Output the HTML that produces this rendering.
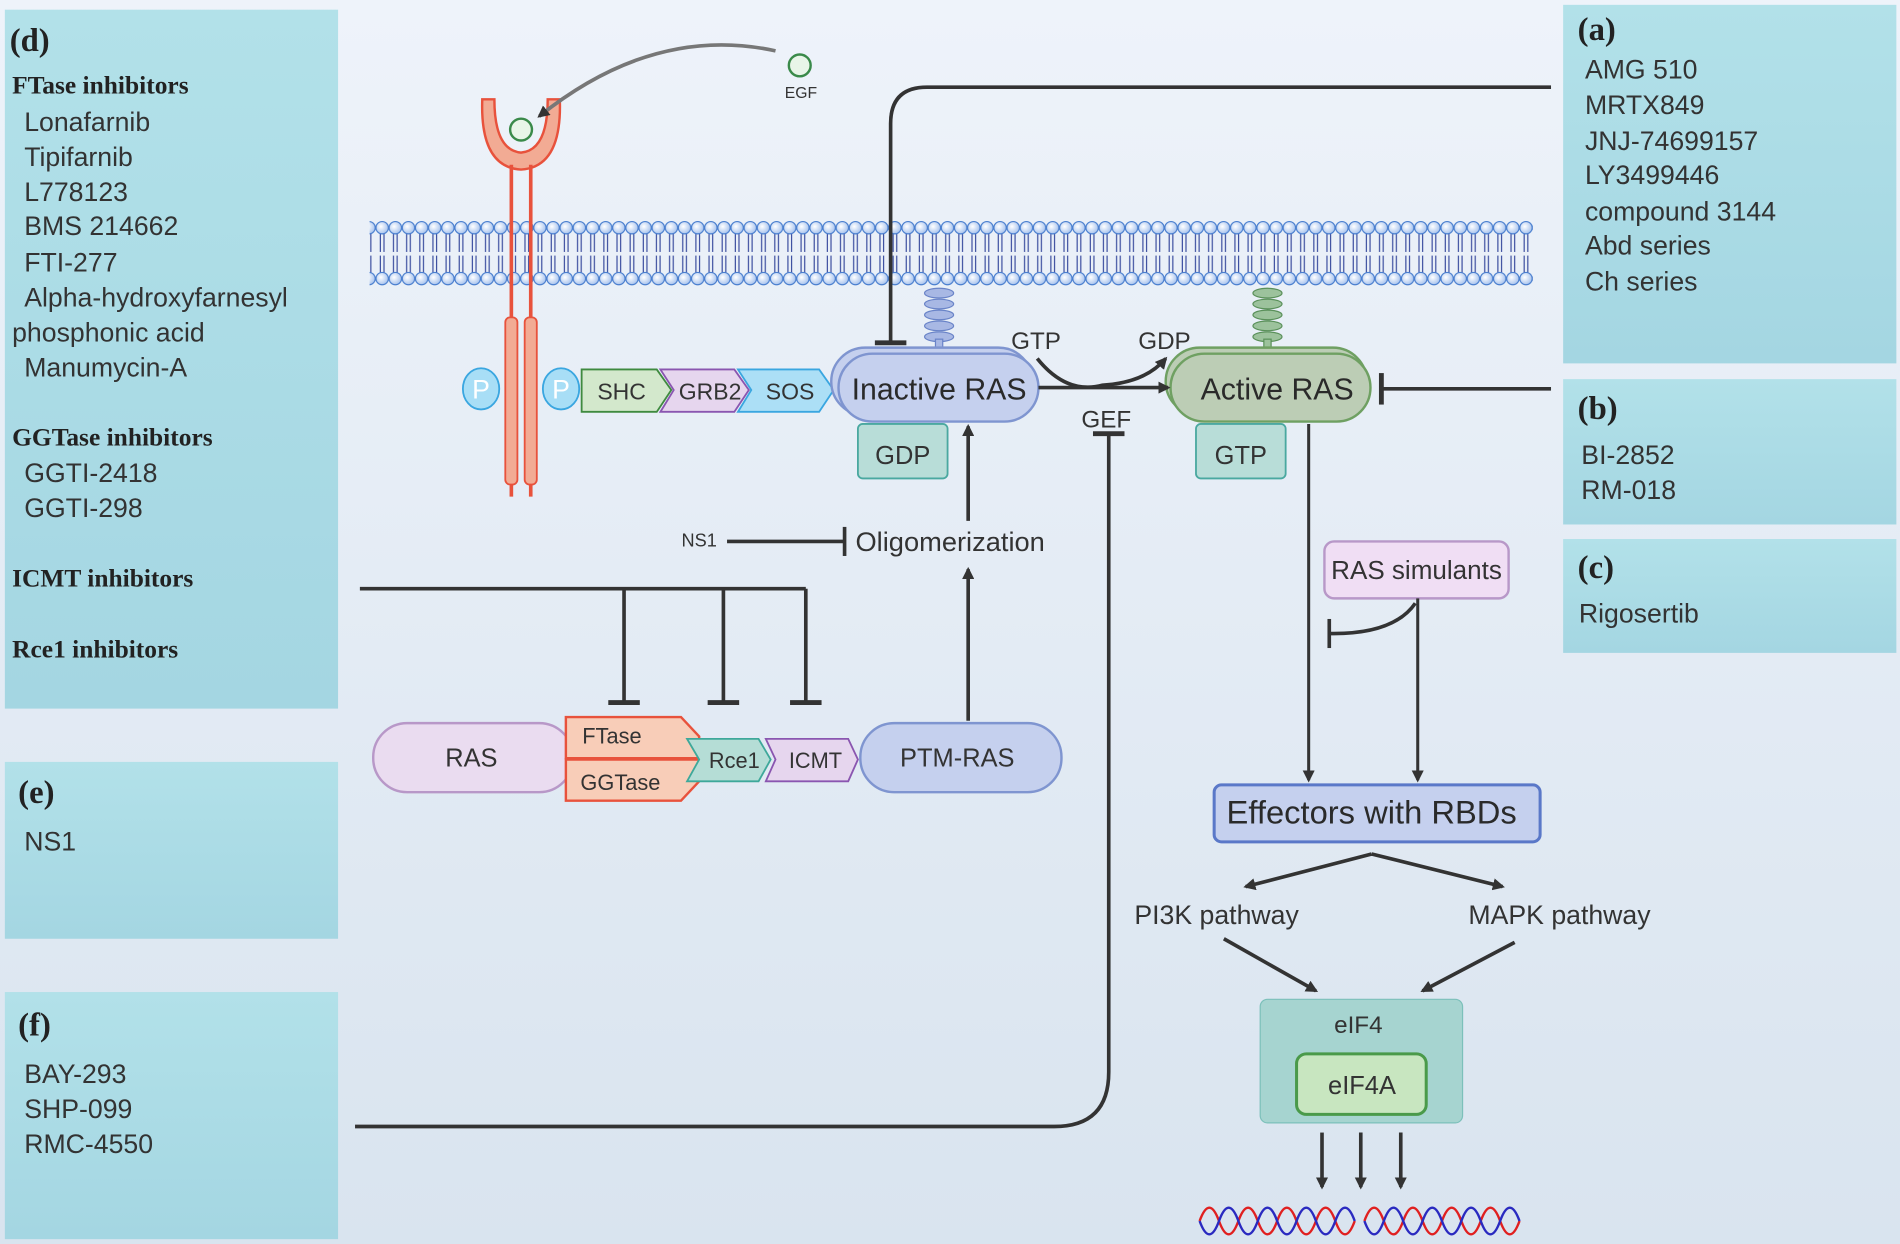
<!DOCTYPE html>
<html><head><meta charset="utf-8"><style>
html,body{margin:0;padding:0;width:1900px;height:1244px;overflow:hidden;background:#e6eef6}
svg{display:block}
.s{font-family:"Liberation Sans","DejaVu Sans",sans-serif;fill:#333}
.b{font-family:"Liberation Serif",serif;font-weight:bold;fill:#222}
</style></head><body>
<svg width="1900" height="1244" viewBox="0 0 1568 1027" preserveAspectRatio="none" xmlns="http://www.w3.org/2000/svg">
<defs>
<linearGradient id="bg" x1="0" y1="0" x2="0" y2="1"><stop offset="0" stop-color="#eef3fa"/><stop offset="1" stop-color="#d9e4ef"/></linearGradient>
<linearGradient id="pn" x1="0" y1="0" x2="0" y2="1"><stop offset="0" stop-color="#b2e1e9"/><stop offset="1" stop-color="#a4d6e2"/></linearGradient>
<radialGradient id="bead" cx="0.4" cy="0.4" r="0.6"><stop offset="0" stop-color="#ffffff"/><stop offset="1" stop-color="#a9c4ee"/></radialGradient>
<pattern id="mem" patternUnits="userSpaceOnUse" x="310" y="0" width="10.85" height="1027">
<line x1="3.9" y1="193" x2="3.9" y2="208" stroke="#3d4fa0" stroke-width="1"/>
<line x1="6.9" y1="193" x2="6.9" y2="208" stroke="#3d4fa0" stroke-width="1"/>
<line x1="3.9" y1="211" x2="3.9" y2="225" stroke="#3d4fa0" stroke-width="1"/>
<line x1="6.9" y1="211" x2="6.9" y2="225" stroke="#3d4fa0" stroke-width="1"/>
<circle cx="5.4" cy="188" r="5.1" fill="url(#bead)" stroke="#4a7fcf" stroke-width="1"/>
<circle cx="5.4" cy="230" r="5.1" fill="url(#bead)" stroke="#4a7fcf" stroke-width="1"/>
</pattern>
<marker id="ar" markerWidth="10" markerHeight="10" refX="8" refY="5" orient="auto" markerUnits="userSpaceOnUse"><path d="M0,0 L10,5 L0,10 z" fill="#333"/></marker>
</defs>
<rect width="1568" height="1027" fill="url(#bg)"/>
<!-- panels -->
<rect x="4" y="8" width="275" height="577" fill="url(#pn)"/>
<rect x="4" y="629" width="275" height="146" fill="url(#pn)"/>
<rect x="4" y="819" width="275" height="204" fill="url(#pn)"/>
<rect x="1290" y="4" width="275" height="296" fill="url(#pn)"/>
<rect x="1290" y="313" width="275" height="120" fill="url(#pn)"/>
<rect x="1290" y="445" width="275" height="94" fill="url(#pn)"/>

<!-- membrane -->
<rect x="305" y="180" width="960" height="57" fill="url(#mem)"/>

<!-- receptor -->
<g stroke="#e8523c" fill="#f2ab94">
<path d="M398,82 Q396,138 430,140 Q464,138 462,82 L452,82 Q452,124 430,126 Q408,124 408,82 Z" stroke-width="2"/>
<line x1="422" y1="136" x2="422" y2="410" stroke-width="3"/>
<line x1="438" y1="136" x2="438" y2="410" stroke-width="3"/>
<rect x="417" y="262" width="10" height="138" rx="4" stroke-width="1.5"/>
<rect x="433" y="262" width="10" height="138" rx="4" stroke-width="1.5"/>
</g>
<circle cx="430" cy="107" r="9" fill="#e8f5e8" stroke="#3a8a4a" stroke-width="2"/>
<path d="M640,42 Q540,20 445,96" fill="none" stroke="#777" stroke-width="3" marker-end="url(#ar)"/>
<circle cx="660" cy="54" r="9" fill="#e8f5e8" stroke="#3a8a4a" stroke-width="2"/>
<text x="661" y="81" class="s" font-size="13" text-anchor="middle">EGF</text>

<!-- P and chevrons -->
<ellipse cx="397" cy="321" rx="15" ry="17" fill="#a8def6" stroke="#3aa6e0" stroke-width="1.5"/>
<ellipse cx="463" cy="321" rx="15" ry="17" fill="#a8def6" stroke="#3aa6e0" stroke-width="1.5"/>
<text x="397" y="329" class="s" font-size="22" text-anchor="middle" style="fill:#fff">P</text>
<text x="463" y="329" class="s" font-size="22" text-anchor="middle" style="fill:#fff">P</text>
<path d="M480,305 L542,305 L554,322 L542,340 L480,340 Z" fill="#d3e8cc" stroke="#3f8a3f" stroke-width="1.5"/>
<path d="M545,305 L606,305 L618,322 L606,340 L545,340 L556,322 Z" fill="#e6d6ee" stroke="#8a56b0" stroke-width="1.5"/>
<path d="M609,305 L676,305 L688,322 L676,340 L609,340 L620,322 Z" fill="#acdff6" stroke="#3aa6e0" stroke-width="1.5"/>
<text x="513" y="330" class="s" font-size="19" text-anchor="middle">SHC</text>
<text x="586" y="330" class="s" font-size="19" text-anchor="middle">GRB2</text>
<text x="652" y="330" class="s" font-size="19" text-anchor="middle">SOS</text>

<!-- stems -->
<g fill="#a8b8e4" stroke="#6a84c8" stroke-width="1">
<ellipse cx="775" cy="242" rx="12" ry="4"/><ellipse cx="775" cy="251" rx="12" ry="4"/><ellipse cx="775" cy="260" rx="12" ry="4"/><ellipse cx="775" cy="269" rx="12" ry="4"/><ellipse cx="775" cy="278" rx="12" ry="4"/>
<rect x="772" y="280" width="6" height="12"/>
</g>
<g fill="#9cc29c" stroke="#5a905a" stroke-width="1">
<ellipse cx="1046" cy="242" rx="12" ry="4"/><ellipse cx="1046" cy="251" rx="12" ry="4"/><ellipse cx="1046" cy="260" rx="12" ry="4"/><ellipse cx="1046" cy="269" rx="12" ry="4"/><ellipse cx="1046" cy="278" rx="12" ry="4"/>
<rect x="1043" y="280" width="6" height="12"/>
</g>

<!-- inactive RAS -->
<rect x="686" y="287" width="166" height="56" rx="28" fill="#c5d0ee" stroke="#7f95d0" stroke-width="2"/>
<rect x="692" y="292" width="165" height="56" rx="28" fill="#c5d0ee" stroke="#7f95d0" stroke-width="2"/>
<text x="775" y="330" class="s" font-size="25" text-anchor="middle" style="fill:#2a2a2a">Inactive RAS</text>
<rect x="708" y="350" width="74" height="45" rx="4" fill="#b8ddd8" stroke="#4aa8a0" stroke-width="1.5"/>
<text x="745" y="383" class="s" font-size="21" text-anchor="middle">GDP</text>

<!-- active RAS -->
<rect x="962" y="287" width="166" height="56" rx="28" fill="#bccdb5" stroke="#6fa062" stroke-width="2"/>
<rect x="966" y="292" width="165" height="56" rx="28" fill="#bccdb5" stroke="#6fa062" stroke-width="2"/>
<text x="1054" y="330" class="s" font-size="25" text-anchor="middle" style="fill:#2a2a2a">Active RAS</text>
<rect x="987" y="350" width="74" height="45" rx="4" fill="#b8ddd8" stroke="#4aa8a0" stroke-width="1.5"/>
<text x="1024" y="383" class="s" font-size="21" text-anchor="middle">GTP</text>

<text x="855" y="288" class="s" font-size="20" text-anchor="middle">GTP</text>
<text x="961" y="288" class="s" font-size="20" text-anchor="middle">GDP</text>
<path d="M856,296 Q880,326 910,318 Q945,316 962,296" fill="none" stroke="#333" stroke-width="3" marker-end="url(#ar)"/>
<line x1="857" y1="320" x2="964" y2="320" stroke="#333" stroke-width="3" marker-end="url(#ar)"/>

<!-- top inhibition line -->
<path d="M1280,72 L765,72 Q735,72 735,102 L735,283" fill="none" stroke="#333" stroke-width="3"/>
<line x1="722" y1="283" x2="748" y2="283" stroke="#333" stroke-width="4"/>
<line x1="1280" y1="321" x2="1140" y2="321" stroke="#333" stroke-width="3"/>
<line x1="1140" y1="308" x2="1140" y2="334" stroke="#333" stroke-width="4"/>

<!-- GEF line -->
<text x="913" y="353" class="s" font-size="20" text-anchor="middle">GEF</text>
<line x1="902" y1="358" x2="928" y2="358" stroke="#333" stroke-width="4"/>
<path d="M915,358 L915,885 Q915,930 870,930 L293,930" fill="none" stroke="#333" stroke-width="3"/>

<!-- oligomerization -->
<text x="577" y="451" class="s" font-size="15" text-anchor="middle">NS1</text>
<line x1="600" y1="447" x2="697" y2="447" stroke="#333" stroke-width="3"/>
<line x1="697" y1="435" x2="697" y2="459" stroke="#333" stroke-width="3"/>
<text x="706" y="455" class="s" font-size="22.5">Oligomerization</text>
<line x1="799" y1="595" x2="799" y2="470" stroke="#333" stroke-width="3" marker-end="url(#ar)"/>
<line x1="799" y1="430" x2="799" y2="352" stroke="#333" stroke-width="3" marker-end="url(#ar)"/>

<!-- inhibitor tree -->
<path d="M297,486 L665,486 M515,486 L515,580 M597,486 L597,580 M665,486 L665,580" fill="none" stroke="#333" stroke-width="3"/>
<path d="M502,580 L528,580 M584,580 L610,580 M652,580 L678,580" stroke="#333" stroke-width="4"/>

<!-- processing row -->
<rect x="308" y="597" width="165" height="57" rx="28" fill="#eadcf0" stroke="#b898c8" stroke-width="2"/>
<text x="389" y="633" class="s" font-size="21" text-anchor="middle">RAS</text>
<path d="M467,592 L562,592 L577,608 L577,626 L467,626 Z" fill="#f8cdb8" stroke="#e8523c" stroke-width="2"/>
<path d="M467,627 L577,627 L577,645 L562,661 L467,661 Z" fill="#f8cdb8" stroke="#e8523c" stroke-width="2"/>
<text x="505" y="614" class="s" font-size="18" text-anchor="middle">FTase</text>
<text x="512" y="652" class="s" font-size="18" text-anchor="middle">GGTase</text>
<path d="M567,610 L626,610 L636,627 L626,645 L567,645 L577,627 Z" fill="#b5ddd6" stroke="#3ea89a" stroke-width="1.5"/>
<path d="M632,610 L700,610 L708,627 L700,645 L632,645 L640,627 Z" fill="#e6d6ee" stroke="#8a56b0" stroke-width="1.5"/>
<text x="606" y="634" class="s" font-size="18" text-anchor="middle">Rce1</text>
<text x="673" y="634" class="s" font-size="18" text-anchor="middle">ICMT</text>
<rect x="710" y="597" width="166" height="57" rx="28" fill="#c5d0ee" stroke="#7f95d0" stroke-width="2"/>
<text x="790" y="633" class="s" font-size="21" text-anchor="middle">PTM-RAS</text>

<!-- right side flows -->
<line x1="1080" y1="350" x2="1080" y2="644" stroke="#333" stroke-width="2.5" marker-end="url(#ar)"/>
<rect x="1093" y="447" width="152" height="47" rx="8" fill="#f0def4" stroke="#b898c8" stroke-width="2"/>
<text x="1169" y="478" class="s" font-size="21.5" text-anchor="middle">RAS simulants</text>
<line x1="1170" y1="494" x2="1170" y2="644" stroke="#333" stroke-width="2.5" marker-end="url(#ar)"/>
<path d="M1168,498 Q1150,524 1097,523" fill="none" stroke="#333" stroke-width="3"/>
<line x1="1097" y1="511" x2="1097" y2="535" stroke="#333" stroke-width="3"/>

<rect x="1002" y="648" width="269" height="47" rx="6" fill="#c5d0ee" stroke="#5a78c8" stroke-width="2.5"/>
<text x="1132" y="680" class="s" font-size="27" text-anchor="middle" style="fill:#2a2a2a">Effectors with RBDs</text>
<path d="M1132,705 L1028,732" stroke="#333" stroke-width="3" marker-end="url(#ar)"/>
<path d="M1132,705 L1240,732" stroke="#333" stroke-width="3" marker-end="url(#ar)"/>
<text x="1004" y="763" class="s" font-size="22" text-anchor="middle">PI3K pathway</text>
<text x="1287" y="763" class="s" font-size="22" text-anchor="middle">MAPK pathway</text>
<path d="M1010,775 L1086,818" stroke="#333" stroke-width="3" marker-end="url(#ar)"/>
<path d="M1250,778 L1174,818" stroke="#333" stroke-width="3" marker-end="url(#ar)"/>

<rect x="1040" y="825" width="167" height="102" rx="6" fill="#a6d4d0" stroke="#7cc0ba" stroke-width="1"/>
<text x="1121" y="853" class="s" font-size="20" text-anchor="middle">eIF4</text>
<rect x="1070" y="870" width="107" height="50" rx="8" fill="#c8e6c0" stroke="#4a9a4a" stroke-width="2.5"/>
<text x="1124" y="903" class="s" font-size="21" text-anchor="middle">eIF4A</text>
<g stroke="#333" stroke-width="3">
<line x1="1091" y1="935" x2="1091" y2="980" marker-end="url(#ar)"/>
<line x1="1123" y1="935" x2="1123" y2="980" marker-end="url(#ar)"/>
<line x1="1156" y1="935" x2="1156" y2="980" marker-end="url(#ar)"/>
</g>
<path d="M990,1008 Q998,986 1006,1008 T1022,1008 T1038,1008 T1054,1008 T1070,1008 T1086,1008 T1102,1008 T1118,1008 M1126,1008 Q1134,986 1142,1008 T1158,1008 T1174,1008 T1190,1008 T1206,1008 T1222,1008 T1238,1008 T1254,1008" fill="none" stroke="#e02020" stroke-width="2"/>
<path d="M990,1008 Q998,1030 1006,1008 T1022,1008 T1038,1008 T1054,1008 T1070,1008 T1086,1008 T1102,1008 T1118,1008 M1126,1008 Q1134,1030 1142,1008 T1158,1008 T1174,1008 T1190,1008 T1206,1008 T1222,1008 T1238,1008 T1254,1008" fill="none" stroke="#2a2ac0" stroke-width="2"/>

<!-- panel text -->
<g font-size="27">
<text x="8" y="42" class="b">(d)</text>
<text x="15" y="663" class="b">(e)</text>
<text x="15" y="855" class="b">(f)</text>
<text x="1302" y="33" class="b">(a)</text>
<text x="1302" y="346" class="b">(b)</text>
<text x="1302" y="477" class="b">(c)</text>
</g>
<g font-size="21">
<text x="10" y="77" class="b">FTase inhibitors</text>
<text x="10" y="368" class="b">GGTase inhibitors</text>
<text x="10" y="484" class="b">ICMT inhibitors</text>
<text x="10" y="543" class="b">Rce1 inhibitors</text>
</g>
<g class="s" font-size="22">
<text x="20" y="108">Lonafarnib</text>
<text x="20" y="137">Tipifarnib</text>
<text x="20" y="166">L778123</text>
<text x="20" y="194">BMS 214662</text>
<text x="20" y="224">FTI-277</text>
<text x="20" y="253">Alpha-hydroxyfarnesyl</text>
<text x="10" y="282">phosphonic acid</text>
<text x="20" y="311">Manumycin-A</text>
<text x="20" y="398">GGTI-2418</text>
<text x="20" y="427">GGTI-298</text>
<text x="20" y="702">NS1</text>
<text x="20" y="894">BAY-293</text>
<text x="20" y="923">SHP-099</text>
<text x="20" y="952">RMC-4550</text>
<text x="1308" y="65">AMG 510</text>
<text x="1308" y="94">MRTX849</text>
<text x="1308" y="124">JNJ-74699157</text>
<text x="1308" y="152">LY3499446</text>
<text x="1308" y="182">compound 3144</text>
<text x="1308" y="210">Abd series</text>
<text x="1308" y="240">Ch series</text>
<text x="1305" y="383">BI-2852</text>
<text x="1305" y="412">RM-018</text>
<text x="1303" y="514">Rigosertib</text>
</g>
</svg>
</body></html>
